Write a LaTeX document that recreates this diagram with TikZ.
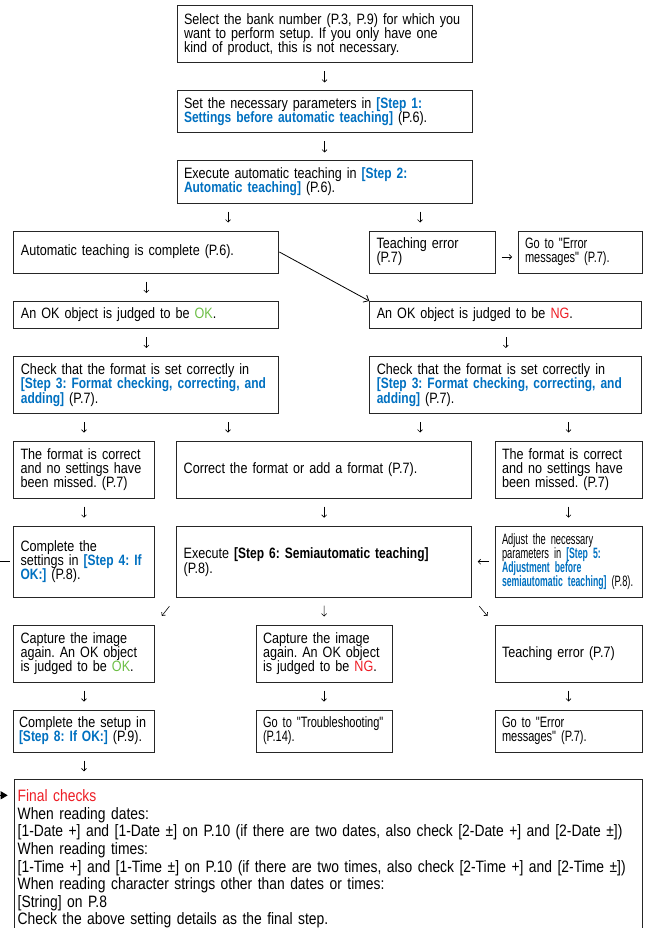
\documentclass[tikz,border=0pt]{standalone}
\usepackage{fontspec}
\setmainfont{Liberation Sans}[FakeStretch=0.84]
\newfontfamily\boldstep{Liberation Sans Bold}[FakeStretch=0.8]
\newfontfamily\midfont{Liberation Sans}[FakeStretch=0.735]
\newfontfamily\narrowfont{Liberation Sans}[FakeStretch=0.62]
\newfontfamily\narrowstep{Liberation Sans Bold}[FakeStretch=0.58]
\usepackage{xcolor}
\usetikzlibrary{arrows.meta}
\definecolor{stepblue}{RGB}{0,112,192}
\definecolor{okgreen}{RGB}{108,190,69}
\definecolor{ngred}{RGB}{237,28,36}
\frenchspacing
\hyphenpenalty=10000
\exhyphenpenalty=10000
\lineskiplimit=-10pt
\newcommand{\boxfont}{\fontsize{15}{14}\selectfont}
\newcommand{\stepref}[1]{{\boldstep\textcolor{stepblue}{#1}}}
\newcommand{\narrowref}[1]{{\narrowstep\textcolor{stepblue}{#1}}}
\newcommand{\OKmark}{\textcolor{okgreen}{OK}}
\newcommand{\NGmark}{\textcolor{ngred}{NG}}

\begin{document}
\begin{tikzpicture}[x=1pt, y=-1pt,
    box/.style={draw=black!85, line width=1pt, inner xsep=7pt, inner ysep=0pt, align=left, font=\boxfont},
    flow/.style={line width=0.6pt, -{Straight Barb[length=2.5pt,width=5pt]}, shorten <=8pt, shorten >=8pt},
    sideflow/.style={flow, shorten <=5.5pt, shorten >=5.5pt},
    slantflow/.style={flow, shorten <=11pt, shorten >=11pt},
    jump/.style={line width=0.8pt, -{Straight Barb[length=4.5pt,width=8pt]}},
    backline/.style={line width=0.8pt, -{Triangle[length=7pt,width=8pt]}, shorten <=3.5pt, shorten >=6pt}]
    \useasboundingbox (0,0) rectangle (649,928);

    % helper columns for the off-centre arrows
    \coordinate (colB) at (228,0);
    \coordinate (colC) at (420,0);

    % top column
    \node[box, text width=281pt, minimum height=57pt] (bank) at (324.5,34.5) {Select the bank number (P.3, P.9) for which you\\want to perform setup. If you only have one\\kind of product, this is not necessary.};
    \node[box, text width=281pt, minimum height=42pt] (step1) at (324.5,112) {Set the necessary parameters in \stepref{[Step 1:}\\\stepref{Settings before automatic teaching]} (P.6).};
    \node[box, text width=281pt, minimum height=42pt] (step2) at (324.5,182) {Execute automatic teaching in \stepref{[Step 2:}\\\stepref{Automatic teaching]} (P.6).};

    % automatic teaching result
    \node[box, text width=251pt, minimum height=42pt] (autodone) at (146.4,252) {Automatic teaching is complete (P.6).};
    \node[box, text width=112pt, minimum height=42pt] (teacherr1) at (432.5,252) {Teaching error\\(P.7)};
    \node[box, text width=110pt, minimum height=42pt, font=\boxfont\midfont] (errmsg1) at (580,252) {Go to "Error\\messages" (P.7).};

    \node[box, text width=251pt, minimum height=27pt] (judgeok) at (146.4,315) {An OK object is judged to be \OKmark.};
    \node[box, text width=258pt, minimum height=27pt] (judgeng) at (505.8,315) {An OK object is judged to be \NGmark.};

    \node[box, text width=251pt, minimum height=57pt] (check1) at (146.4,385) {Check that the format is set correctly in\\\stepref{[Step 3: Format checking, correcting, and}\\\stepref{adding]} (P.7).};
    \node[box, text width=258pt, minimum height=57pt] (check2) at (505.8,385) {Check that the format is set correctly in\\\stepref{[Step 3: Format checking, correcting, and}\\\stepref{adding]} (P.7).};

    % format row
    \node[box, text width=127pt, minimum height=57pt] (fmtok1) at (84,469.5) {The format is correct\\and no settings have\\been missed. (P.7)};
    \node[box, text width=281pt, minimum height=57pt] (fixfmt) at (324.2,469.5) {Correct the format or add a format (P.7).};
    \node[box, text width=133pt, minimum height=57pt] (fmtok2) at (568.5,469.5) {The format is correct\\and no settings have\\been missed. (P.7)};

    % steps 4, 6, 5
    \node[box, text width=127pt, minimum height=71pt] (step4) at (84,561.7) {Complete the\\settings in \stepref{[Step 4: If}\\\stepref{OK:]} (P.8).};
    \node[box, text width=281pt, minimum height=71pt] (step6) at (324.2,561.7) {Execute {\boldstep[Step 6: Semiautomatic teaching]}\\(P.8).};
    \node[box, text width=133pt, minimum height=71pt, font=\boxfont\narrowfont] (step5) at (568.5,561.7) {Adjust the necessary\\parameters in \narrowref{[Step 5:}\\\narrowref{Adjustment before}\\\narrowref{semiautomatic teaching]} (P.8).};

    % semiautomatic teaching result
    \node[box, text width=127pt, minimum height=57pt] (captok) at (84,653.5) {Capture the image\\again. An OK object\\is judged to be \OKmark.};
    \node[box, text width=122pt, minimum height=57pt] (captng) at (324,653.5) {Capture the image\\again. An OK object\\is judged to be \NGmark.};
    \node[box, text width=133pt, minimum height=57pt] (teacherr2) at (568.5,653.5) {Teaching error (P.7)};

    \node[box, inner xsep=5.5pt, text width=130pt, minimum height=42pt] (step8) at (84,731) {Complete the setup in\\\stepref{[Step 8: If OK:]} (P.9).};
    \node[box, text width=122pt, minimum height=42pt, font=\boxfont\midfont] (trouble) at (324,731) {Go to "Troubleshooting"\\(P.14).};
    \node[box, text width=133pt, minimum height=42pt, font=\boxfont\midfont] (errmsg2) at (568.5,731) {Go to "Error\\messages" (P.7).};

    % final checks
    \node[box, anchor=north west, inner xsep=3.5pt, inner ysep=10pt, text width=621pt, font=\fontsize{16.5}{17.6}\selectfont] (final) at (13.7,779.3) {\textcolor{ngred}{Final checks}\\When reading dates:\\{}[1-Date +] and [1-Date ±] on P.10 (if there are two dates, also check [2-Date +] and [2-Date ±])\\When reading times:\\{}[1-Time +] and [1-Time ±] on P.10 (if there are two times, also check [2-Time +] and [2-Time ±])\\When reading character strings other than dates or times:\\{}[String] on P.8\\Check the above setting details as the final step.};

    % connectors
    \draw[flow] (bank) -- (step1);
    \draw[flow] (step1) -- (step2);
    \draw[flow] (step2.south -| colB) -- (autodone.north -| colB);
    \draw[flow] (step2.south -| colC) -- (teacherr1.north -| colC);
    \draw[sideflow] ([yshift=-5pt]teacherr1.east) -- ([yshift=-5pt]errmsg1.west);
    \draw[jump] (autodone.east) -- (judgeng.north west);
    \draw[flow] (autodone) -- (judgeok);
    \draw[flow] (judgeok) -- (check1);
    \draw[flow] (judgeng) -- (check2);
    \draw[flow] (check1.south -| fmtok1) -- (fmtok1.north);
    \draw[flow] (check1.south -| colB) -- (fixfmt.north -| colB);
    \draw[flow] (check2.south -| colC) -- (fixfmt.north -| colC);
    \draw[flow] (check2.south -| fmtok2) -- (fmtok2.north);
    \draw[flow] (fmtok1) -- (step4);
    \draw[flow] (fixfmt) -- (step6);
    \draw[flow] (fmtok2) -- (step5);
    \draw[sideflow] (step5) -- (step6);
    \draw[slantflow] (step6.south west) -- (captok.north east);
    \draw[flow] (step6) -- (captng);
    \draw[slantflow] (step6.south east) -- (teacherr2.north west);
    \draw[flow] (captok) -- (step8);
    \draw[flow] (captng) -- (trouble);
    \draw[flow] (teacherr2) -- (errmsg2);
    \draw[flow] (step8.south) -- (final.north -| step8);
    \draw[backline] (step4.west) -- ++(-30,0) |- ([yshift=-16pt]final.north west);
\end{tikzpicture}
\end{document}
